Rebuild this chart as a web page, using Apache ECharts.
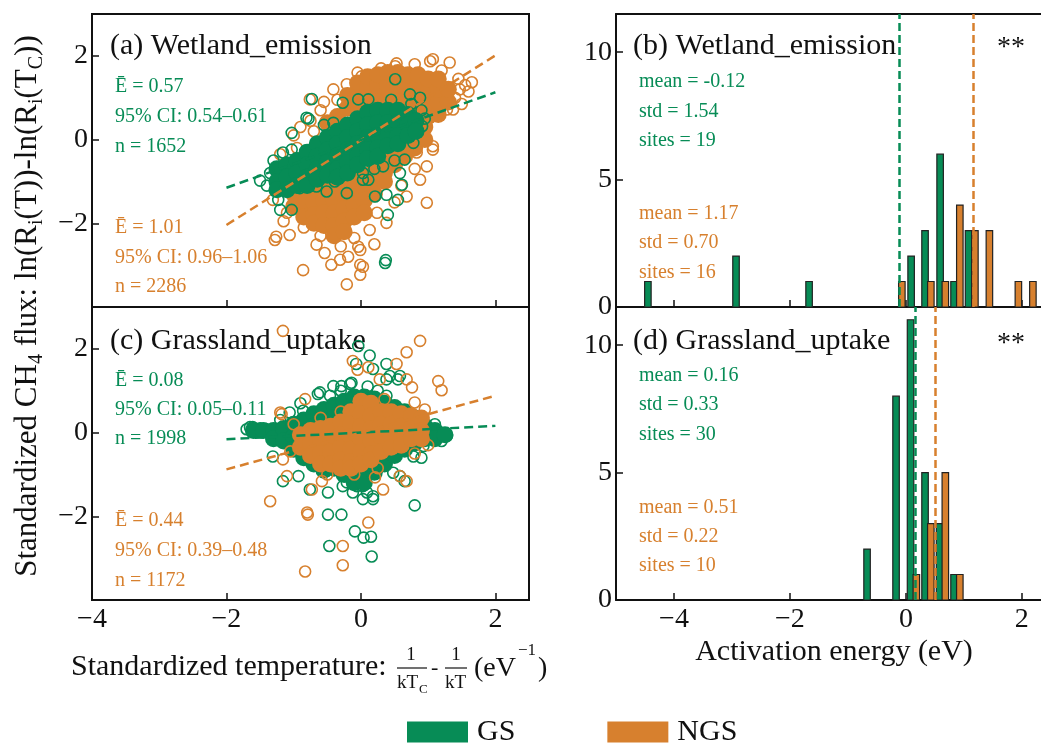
<!DOCTYPE html>
<html>
<head>
<meta charset="utf-8">
<script src="https://cdn.jsdelivr.net/npm/echarts@6.0.0/dist/echarts.min.js"></script>
<style>
  html, body { margin: 0; padding: 0; background: #fff; }
  #chart { width: 1041px; height: 746px; }
</style>
</head>
<body>
<div id="chart"></div>
<script>
// ---- data ----
// (a) Wetland_emission scatter, x: 1/kTc - 1/kT, y: standardized flux
const gsA_core = [
  [-1.25,-0.7],[-1.25,-1.0],[-1.25,-1.2],
  [-1.1,-0.6],[-1.1,-0.9],[-1.1,-1.2],
  [-0.95,-0.5],[-0.95,-0.8],[-0.95,-1.1],
  [-0.8,-0.3],[-0.8,-0.6],[-0.8,-0.9],[-0.8,-1.1],
  [-0.65,-0.1],[-0.65,-0.4],[-0.65,-0.7],[-0.65,-0.95],
  [-0.5,0.05],[-0.5,-0.25],[-0.5,-0.55],[-0.5,-0.85],
  [-0.35,0.2],[-0.35,-0.1],[-0.35,-0.4],[-0.35,-0.7],[-0.35,-0.9],
  [-0.2,0.35],[-0.2,0.05],[-0.2,-0.25],[-0.2,-0.55],[-0.2,-0.8],
  [-0.05,0.5],[-0.05,0.2],[-0.05,-0.1],[-0.05,-0.4],[-0.05,-0.6],
  [0.1,0.65],[0.1,0.35],[0.1,0.05],[0.1,-0.25],[0.1,-0.45],
  [0.25,0.7],[0.25,0.4],[0.25,0.1],[0.25,-0.2],[0.25,-0.4],
  [0.4,0.7],[0.4,0.4],[0.4,0.1],[0.4,-0.15],
  [0.55,0.7],[0.55,0.4],[0.55,0.1],[0.55,-0.1],
  [0.7,0.6],[0.7,0.35],[0.7,0.1],
  [0.82,0.45],[0.82,0.2]
];
const gsA_ring = [
  [-0.73,0.97],[-1.03,0.16],[-1.16,-0.31],[-1.5,-0.98],[-1.23,-1.44],[-1.03,-1.68],[-1.2,-1.68],
  [0.4,-1.8],[0.55,-1.44],[0.38,-1.32],[0.21,-1.36],[0.36,-2.95],[0.37,-2.88],[0.58,-0.8],
  [0.65,-0.48],[0.11,-0.96],[-0.21,-1.28],[-0.39,-1.0],[0.51,1.44],[0.88,1.0],[0.73,1.08],
  [0.91,0.32],[0.78,-0.08],[-0.04,0.96],[0.11,0.96],[-0.27,0.88],[-0.81,0.52],[-0.41,0.4],
  [-0.66,-1.12],[0.03,-0.8],[0.33,-0.64],[-0.78,0.5],[-1.03,-0.24],[0.61,-1.08],[-0.51,-1.24],
  [-0.91,-1.16],[0.03,-0.96],[-1.35,-0.8],[-1.4,-1.1],[-1.3,-0.5],[0.9,0.7],[0.95,0.5],
  [0.75,0.85],[0.45,0.95],[-0.55,0.35],[0.2,-0.7],[0.5,-0.5]
];
const ngsA_core = [
  [-0.5,0.4],[-0.35,0.55],[-0.2,0.75],[-0.2,1.05],
  [-0.05,0.85],[-0.05,1.15],[-0.05,1.35],[0.1,0.95],[0.1,1.25],[0.1,1.5],
  [0.25,1.0],[0.25,1.3],[0.25,1.55],[0.4,1.0],[0.4,1.3],[0.4,1.6],
  [0.55,1.0],[0.55,1.3],[0.55,1.6],[0.7,0.95],[0.7,1.25],[0.7,1.55],
  [0.85,0.7],[0.85,1.0],[0.85,1.3],[0.85,1.55],[1.0,0.55],[1.0,0.85],[1.0,1.15],[1.0,1.45],
  [1.15,0.6],[1.15,0.9],[1.15,1.2],[1.15,1.45],[1.3,0.9],[1.3,1.2],
  [-1.0,-1.3],[-1.0,-1.6],[-0.85,-1.25],[-0.85,-1.55],[-0.85,-1.85],
  [-0.7,-1.2],[-0.7,-1.5],[-0.7,-1.8],[-0.7,-2.0],
  [-0.55,-1.15],[-0.55,-1.45],[-0.55,-1.75],[-0.55,-2.05],
  [-0.4,-1.15],[-0.4,-1.45],[-0.4,-1.75],[-0.4,-2.05],[-0.4,-2.3],
  [-0.25,-1.05],[-0.25,-1.35],[-0.25,-1.65],[-0.25,-1.95],[-0.25,-2.2],
  [-0.1,-0.95],[-0.1,-1.25],[-0.1,-1.55],[-0.1,-1.85],
  [0.05,-0.85],[0.05,-1.15],[0.05,-1.45],[0.05,-1.75],
  [0.2,-0.7],[0.2,-1.0],[0.2,-1.3],[0.35,-0.5],[0.35,-0.8],[0.35,-1.0],
  [0.5,-0.3],[0.5,-0.6],[0.65,-0.1],[0.65,-0.4],[0.8,0.1],[0.8,-0.2],[0.95,0.3],[0.95,0.0]
];
const ngsA_ring = [
  [-1.28,-2.4],[-1.26,-2.32],[-1.06,-2.28],[-0.86,-3.12],[-0.66,-2.51],[-0.44,-2.99],[-0.21,-3.46],
  [-0.01,-3.23],[-0.01,-2.99],[-0.04,-2.56],[-0.19,-2.8],[-0.31,-2.87],[-0.54,-2.71],[0.03,-3.04],
  [-0.01,-2.64],[0.51,1.75],[0.53,1.82],[1.03,1.87],[1.07,1.92],[1.32,1.84],[1.65,1.37],[1.47,1.2],
  [1.28,0.72],[1.37,0.72],[0.98,-0.64],[1.07,-0.16],[1.07,-0.24],[0.83,-0.31],[0.88,-0.96],
  [0.98,-1.51],[0.68,-1.36],[-0.76,0.96],[-0.41,1.2],[-0.21,1.32],[0.01,1.51],[-1.1,-1.75],
  [-1.31,-1.44],[-0.91,-1.6],[0.24,-1.75],[0.38,-1.99],[0.13,-2.16],[0.03,-1.44],
  [-1.2,-0.35],[-1.0,0.1],[-0.9,0.3],[-0.75,0.45],[-0.6,0.7],[-0.95,-0.2],
  [1.45,1.45],[1.55,1.3],[1.6,1.15],[1.2,1.65],[0.8,1.8],[0.3,1.7],[-0.05,1.6],
  [0.5,-1.5],[0.6,-1.1],[0.8,-0.7],[0.2,-2.5],[-0.1,-2.35],[-0.6,-2.3],[-0.85,-2.1],
  [-1.15,-1.95],[-0.3,-2.55],[-0.7,0.2],[-0.55,0.9],[-0.35,0.95],[1.4,1.0],[1.5,0.85]
];
// (c) Grassland_uptake scatter
const gsC_core = [
  [-1.6,0.05],[-1.45,0.05],[-1.3,0.05],[-1.3,-0.15],[-1.15,0.1],[-1.15,-0.2],
  [-1.0,0.2],[-1.0,-0.1],[-1.0,-0.4],[-0.85,0.3],[-0.85,0.0],[-0.85,-0.3],[-0.85,-0.6],
  [-0.7,0.45],[-0.7,0.15],[-0.7,-0.15],[-0.7,-0.45],[-0.7,-0.75],
  [-0.55,0.55],[-0.55,0.25],[-0.55,-0.05],[-0.55,-0.35],[-0.55,-0.65],[-0.55,-0.9],
  [-0.4,0.65],[-0.4,0.35],[-0.4,0.05],[-0.4,-0.25],[-0.4,-0.55],[-0.4,-0.85],
  [-0.25,0.75],[-0.25,0.45],[-0.25,0.15],[-0.25,-0.15],[-0.25,-0.45],[-0.25,-0.75],[-0.25,-1.0],
  [-0.1,0.85],[-0.1,0.55],[-0.1,0.25],[-0.1,-0.05],[-0.1,-0.35],[-0.1,-0.65],[-0.1,-0.95],[-0.1,-1.2],
  [0.05,0.85],[0.05,0.55],[0.05,0.25],[0.05,-0.05],[0.05,-0.35],[0.05,-0.65],[0.05,-0.95],[0.05,-1.2],
  [0.2,0.8],[0.2,0.5],[0.2,0.2],[0.2,-0.1],[0.2,-0.4],[0.2,-0.7],[0.2,-0.95],
  [0.35,0.7],[0.35,0.4],[0.35,0.1],[0.35,-0.2],[0.35,-0.5],[0.35,-0.75],
  [0.5,0.6],[0.5,0.3],[0.5,0.0],[0.5,-0.3],[0.5,-0.55],
  [0.65,0.5],[0.65,0.2],[0.65,-0.1],[0.65,-0.4],[0.8,0.35],[0.8,0.05],[0.8,-0.25],
  [0.95,0.15],[0.95,-0.15],[1.1,0.05],[1.1,-0.15],[1.25,-0.05]
];
const gsC_ring = [
  [-1.7,0.08],[-1.61,0.13],[-1.4,0.08],[-1.31,-0.57],[-1.16,-1.16],[-0.93,-1.04],[-0.76,-1.36],
  [-0.49,-1.43],[-0.49,-1.96],[-0.29,-1.96],[-0.47,-2.71],[-0.09,-2.36],[0.04,-2.51],[0.15,-2.49],
  [0.16,-2.96],[0.8,-1.74],[0.48,-0.96],[0.65,-1.16],[-0.04,2.07],[0.13,1.84],[0.38,1.64],
  [0.55,1.27],[0.38,1.27],[-0.07,1.64],[-0.64,0.92],[-0.46,0.88],[-0.29,1.11],[-0.14,1.19],
  [-0.86,0.52],[1.17,0.0],[1.27,-0.04],[1.07,-0.16],[0.93,-0.32],[0.28,-0.48],[0.03,-1.28],
  [0.18,-1.52],[-0.12,-1.43],[-0.21,-1.19],[0.43,1.35],[0.18,1.52],[-0.41,1.11],[-0.16,1.16],
  [-0.61,0.96],[-1.06,0.48],[-1.65,0.13],[0.03,-1.59],[0.18,-1.59],[0.58,-1.04],[0.78,-0.57],
  [1.28,-0.08],[0.58,1.35],[0.38,0.88],[-0.27,-1.28],[-0.06,-1.28],[0.09,-1.43],[-1.5,0.1],
  [-1.2,0.3],[-0.9,0.7],[1.1,0.2],[1.2,-0.2],[0.9,-0.6],[-0.3,1.0],[0.1,1.1],[0.25,1.0]
];
const ngsC_core = [
  [-0.9,-0.05],[-0.9,-0.35],[-0.75,0.05],[-0.75,-0.25],[-0.75,-0.55],
  [-0.6,0.1],[-0.6,-0.2],[-0.6,-0.5],[-0.6,-0.75],[-0.45,0.15],[-0.45,-0.15],[-0.45,-0.45],[-0.45,-0.75],
  [-0.3,0.25],[-0.3,-0.05],[-0.3,-0.35],[-0.3,-0.65],[-0.3,-0.85],
  [-0.15,0.5],[-0.15,0.2],[-0.15,-0.1],[-0.15,-0.4],[-0.15,-0.7],[-0.15,-0.85],
  [0.0,0.75],[0.0,0.45],[0.0,0.15],[0.0,-0.15],[0.0,-0.45],[0.0,-0.75],
  [0.15,0.7],[0.15,0.4],[0.15,0.1],[0.15,-0.2],[0.15,-0.5],[0.15,-0.65],
  [0.3,0.5],[0.3,0.2],[0.3,-0.1],[0.3,-0.45],[0.45,0.5],[0.45,0.2],[0.45,-0.1],[0.45,-0.35],
  [0.6,0.45],[0.6,0.15],[0.6,-0.15],[0.6,-0.3],[0.75,0.4],[0.75,0.1],[0.75,-0.15],
  [0.9,0.35],[0.9,0.05],[0.9,-0.15]
];
const ngsC_ring = [
  [-1.16,2.43],[0.88,2.19],[0.68,1.92],[0.53,1.64],[0.11,1.56],[-0.12,1.71],[0.28,1.27],[0.68,1.27],
  [0.76,1.08],[1.15,1.23],[1.2,1.01],[-0.83,0.8],[-1.18,0.44],[0.8,0.72],[-1.1,-1.04],[-1.35,-1.64],
  [-0.79,-1.96],[-0.73,-1.36],[-0.58,-1.16],[-0.27,-2.71],[-0.27,-3.17],[-0.83,-3.32],[0.11,-2.15],
  [0.33,-1.36],[0.21,-1.07],[0.58,-1.04],[0.68,-1.16],[-1.16,-0.64],[-0.8,-1.91],[-1.2,0.48],
  [-0.05,1.5],[-1.0,0.2],[-0.6,0.35],[-0.3,0.5],[0.35,0.8],[0.95,0.55],[1.0,-0.3],[0.8,-0.5],
  [-0.5,-1.0],[-0.1,-1.0],[0.25,-0.85],[-1.05,-0.45]
];
// dashed fit lines, end points
const fitA_GS = [[-2, -1.15], [2, 1.13]];
const fitA_NGS = [[-2, -2.04], [2, 2.01]];
const fitC_GS = [[-2, -0.16], [2, 0.16]];
const fitC_NGS = [[-2, -0.88], [2, 0.88]];

// (b),(d) histograms of site activation energy: [eV, count]
const histB_GS = [[-4.45,1],[-2.93,2],[-1.67,1],[0.09,2],[0.33,3],[0.59,6],[0.83,1],[1.08,3]];
const histB_NGS = [[-0.07,1],[0.43,1],[0.68,1],[0.93,4],[1.19,3],[1.44,3],[1.94,1],[2.19,1]];
const histD_GS = [[-0.67,2],[-0.17,8],[0.08,11],[0.33,5],[0.58,3],[0.83,1]];
const histD_NGS = [[0.18,1],[0.43,3],[0.68,5],[0.93,1]];
const meanB = [-0.12, 1.17];
const meanD = [0.16, 0.51];

const statsA_GS = ['Ē = 0.57', '95% CI: 0.54–0.61', 'n = 1652'];
const statsA_NGS = ['Ē = 1.01', '95% CI: 0.96–1.06', 'n = 2286'];
const statsC_GS = ['Ē = 0.08', '95% CI: 0.05–0.11', 'n = 1998'];
const statsC_NGS = ['Ē = 0.44', '95% CI: 0.39–0.48', 'n = 1172'];
const statsB_GS = ['mean = -0.12', 'std = 1.54', 'sites = 19'];
const statsB_NGS = ['mean = 1.17', 'std = 0.70', 'sites = 16'];
const statsD_GS = ['mean = 0.16', 'std = 0.33', 'sites = 30'];
const statsD_NGS = ['mean = 0.51', 'std = 0.22', 'sites = 10'];

const xTicksScatter = [-4, -2, 0, 2];
const yTicksScatter = [-2, 0, 2];
const xTicksHist = [-4, -2, 0, 2];
const yTicksHist = [0, 5, 10];

// ---- style ----
const FONT = "'Liberation Serif', 'Times New Roman', serif";
const GREEN = '#078c56';
const ORANGE = '#d7802e';
const INK = '#111';
const BAR_PX = 6.5; // bar width in pixels

const chart = echarts.init(document.getElementById('chart'), null, { renderer: 'canvas' });

function valueAxis(gridIndex, min, max, ticks, showLabel, margin) {
  return {
    type: 'value',
    gridIndex: gridIndex,
    min: min,
    max: max,
    splitLine: { show: false },
    axisLine: { show: true, onZero: false, lineStyle: { color: INK, width: 2 } },
    axisTick: { show: true, inside: true, length: 7, customValues: ticks, lineStyle: { color: INK, width: 1.5 } },
    axisLabel: {
      show: showLabel,
      customValues: ticks,
      margin: margin,
      color: INK,
      fontFamily: FONT,
      fontSize: 28,
      formatter: (v) => String(v).replace('-', '\u2212'),
    },
  };
}

function grid(left, top, width, border) {
  return { left: left, top: top, width: width, height: 293, show: border, borderColor: INK, borderWidth: 2, containLabel: false };
}

function rings(name, xi, data, color) {
  return {
    name: name, type: 'scatter', xAxisIndex: xi, yAxisIndex: xi, data: data,
    symbol: 'circle', symbolSize: 11, silent: true,
    itemStyle: { color: 'rgba(0,0,0,0)', borderColor: color, borderWidth: 1.6, opacity: 1 },
  };
}
function core(name, xi, data, color) {
  return {
    name: name, type: 'scatter', xAxisIndex: xi, yAxisIndex: xi, data: data,
    symbol: 'circle', symbolSize: 17, silent: true,
    itemStyle: { color: color, opacity: 1 },
  };
}
function fit(xi, data, color) {
  return {
    type: 'line', xAxisIndex: xi, yAxisIndex: xi, data: data, symbol: 'none', silent: true,
    lineStyle: { color: color, width: 2.5, type: [9, 5] },
  };
}
// histogram bars: a fixed pixel width, positioned through the axes
function bars(name, xi, data, color, mean) {
  return {
    name: name, type: 'custom', xAxisIndex: xi, yAxisIndex: xi, data: data, silent: true,
    encode: { x: 0, y: 1 },
    itemStyle: { color: color },
    renderItem: function (params, api) {
      const base = api.coord([api.value(0), 0]);
      const top = api.coord([api.value(0), api.value(1)]);
      return {
        type: 'rect',
        shape: { x: base[0] - BAR_PX / 2, y: top[1], width: BAR_PX, height: base[1] - top[1] },
        style: { fill: color, stroke: '#222', lineWidth: 1.2 },
      };
    },
    markLine: {
      symbol: 'none', silent: true, label: { show: false },
      lineStyle: { color: color, width: 2.5, type: [8, 4] },
      data: [{ xAxis: mean }],
    },
  };
}

function txt(text, x, y, color, size, align) {
  return {
    type: 'text', x: x, y: y, silent: true,
    style: { text: text, fill: color, fontSize: size, fontFamily: FONT, align: align || 'left', verticalAlign: 'middle' },
  };
}
function statBlock(lines, x, ys, color) {
  return lines.map((s, i) => txt(s, x, ys[i], color, 20));
}

const graphics = [
  txt('(a) Wetland_emission', 110, 46, INK, 30),
  txt('(c) Grassland_uptake', 110, 341, INK, 30),
  txt('(b) Wetland_emission', 633, 46, INK, 30),
  txt('(d) Grassland_uptake', 633, 341, INK, 30),
  txt('**', 997, 48, INK, 28),
  txt('**', 997, 344, INK, 28),
  ...statBlock(statsA_GS, 115, [87, 117, 147], GREEN),
  ...statBlock(statsA_NGS, 115, [228, 258, 287], ORANGE),
  ...statBlock(statsC_GS, 115, [381, 410, 439], GREEN),
  ...statBlock(statsC_NGS, 115, [521, 551, 581], ORANGE),
  ...statBlock(statsB_GS, 639, [82, 112, 141], GREEN),
  ...statBlock(statsB_NGS, 639, [214, 243, 273], ORANGE),
  ...statBlock(statsD_GS, 639, [376, 405, 435], GREEN),
  ...statBlock(statsD_NGS, 639, [508, 537, 566], ORANGE),
  // y axis title
  {
    type: 'text', x: 28, y: 306, rotation: Math.PI / 2, silent: true,
    style: {
      text: 'Standardized CH{s|4} flux: ln(R{s|i}(T))-ln(R{s|i}(T{s|C}))',
      fill: INK, fontSize: 31, fontFamily: FONT, lineHeight: 38,
      align: 'center', verticalAlign: 'middle',
      rich: { s: { fontSize: 20, fontFamily: FONT, fill: INK, verticalAlign: 'bottom', lineHeight: 38 } },
    },
  },
  // x axis titles
  txt('Activation energy (eV)', 834, 652, INK, 30, 'center'),
  txt('Standardized temperature:', 71, 667, INK, 30),
  txt('1', 411, 655, INK, 19, 'center'),
  { type: 'line', silent: true, shape: { x1: 397, y1: 668, x2: 427, y2: 668 }, style: { stroke: INK, lineWidth: 1.2 } },
  txt('kT', 397, 683, INK, 19),
  txt('C', 419, 690, INK, 13),
  txt('-', 431, 668, INK, 22),
  txt('1', 456, 655, INK, 19, 'center'),
  { type: 'line', silent: true, shape: { x1: 445, y1: 668, x2: 467, y2: 668 }, style: { stroke: INK, lineWidth: 1.2 } },
  txt('kT', 445, 683, INK, 19),
  txt('(eV', 474, 669, INK, 28),
  txt('\u22121', 518, 651, INK, 17),
  txt(')', 538, 669, INK, 28),
];

// top frame line of panel (b): an extra axis showing only its line
const topFrameB = {
  type: 'value', gridIndex: 2, position: 'top', min: -5, max: 2.33,
  splitLine: { show: false }, axisTick: { show: false }, axisLabel: { show: false },
  axisLine: { show: true, onZero: false, lineStyle: { color: INK, width: 2 } },
};

const option = {
  animation: false,
  backgroundColor: '#fff',
  grid: [grid(92, 14, 437, true), grid(92, 307, 437, true), grid(616, 14, 425, false), grid(616, 307, 425, false)],
  xAxis: [
    valueAxis(0, -4, 2.5, xTicksScatter, false, 6),
    valueAxis(1, -4, 2.5, xTicksScatter, true, 6),
    valueAxis(2, -5, 2.33, xTicksHist, false, 6),
    valueAxis(3, -5, 2.33, xTicksHist, true, 6),
    topFrameB,
  ],
  yAxis: [
    valueAxis(0, -4, 3, yTicksScatter, true, 4),
    valueAxis(1, -4, 3, yTicksScatter, true, 4),
    valueAxis(2, 0, 11.5, yTicksHist, true, 4),
    valueAxis(3, 0, 11.5, yTicksHist, true, 4),
  ],
  legend: {
    left: 402, top: 712, icon: 'rect', itemWidth: 61, itemHeight: 21, itemGap: 92,
    selectedMode: false,
    itemStyle: { borderWidth: 0 },
    textStyle: { color: INK, fontFamily: FONT, fontSize: 30, padding: [0, 0, 0, 4] },
    data: [
      { name: 'GS', itemStyle: { color: GREEN, borderWidth: 0 } },
      { name: 'NGS', itemStyle: { color: ORANGE, borderWidth: 0 } },
    ],
  },
  series: [
    // (a): NGS cloud, fit lines, then GS cloud on top
    rings('NGS_a', 0, ngsA_ring, ORANGE),
    core('NGS_a', 0, ngsA_core, ORANGE),
    fit(0, fitA_NGS, ORANGE),
    fit(0, fitA_GS, GREEN),
    rings('GS_a', 0, gsA_ring, GREEN),
    core('GS_a', 0, gsA_core, GREEN),

    // (c): GS cloud, fit lines, then NGS cloud on top
    rings('GS_c', 1, gsC_ring, GREEN),
    core('GS_c', 1, gsC_core, GREEN),
    fit(1, fitC_GS, GREEN),
    fit(1, fitC_NGS, ORANGE),
    rings('NGS_c', 1, ngsC_ring, ORANGE),
    core('NGS_c', 1, ngsC_core, ORANGE),

    bars('GS', 2, histB_GS, GREEN, meanB[0]),
    bars('NGS', 2, histB_NGS, ORANGE, meanB[1]),
    bars('GS', 3, histD_GS, GREEN, meanD[0]),
    bars('NGS', 3, histD_NGS, ORANGE, meanD[1]),
  ],
  graphic: graphics,
};

chart.setOption(option);
</script>
</body>
</html>
